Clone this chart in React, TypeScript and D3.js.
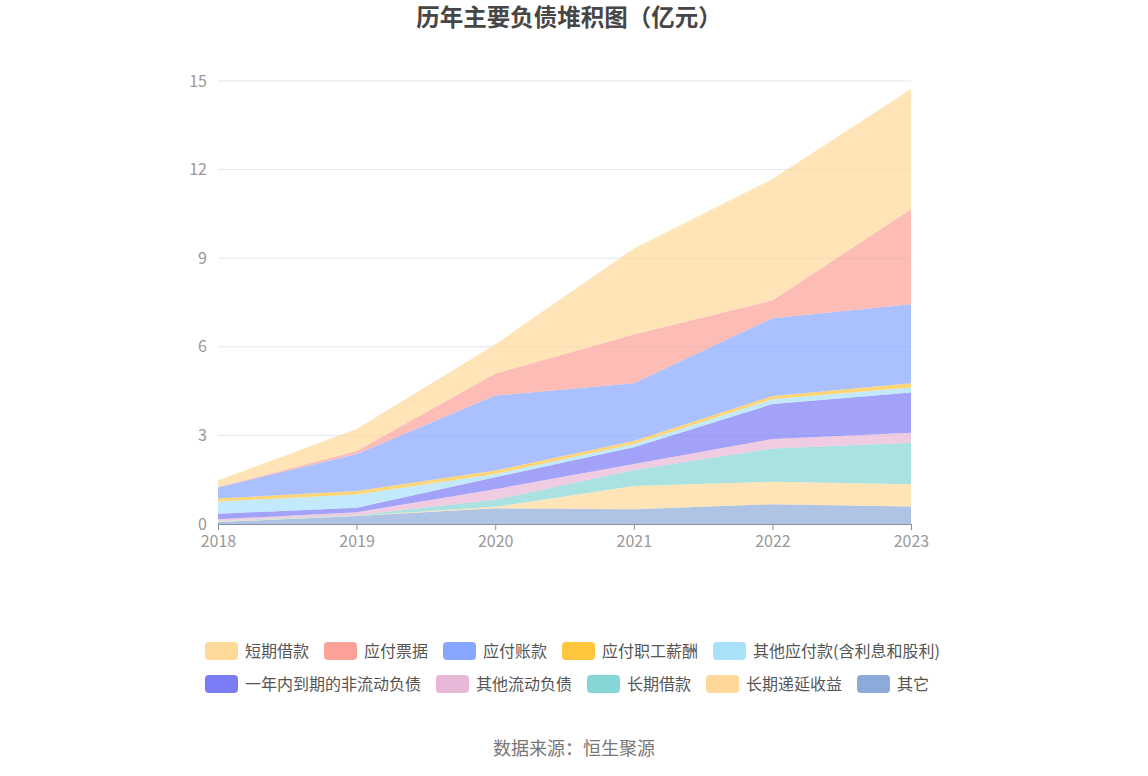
import { useEffect, useRef } from 'react'
import * as d3 from 'd3'

// years on the x axis
const years = ['2018', '2019', '2020', '2021', '2022', '2023']

// series values, 亿元, bottom of the stack first
const qita = [0.07, 0.27, 0.53, 0.5, 0.67, 0.59] // 其它
const changqiDiyan = [0.02, 0.01, 0.05, 0.79, 0.76, 0.76] // 长期递延收益
const changqiJiekuan = [0.02, 0.02, 0.24, 0.54, 1.13, 1.4] // 长期借款
const qitaLiudong = [0.05, 0.1, 0.36, 0.2, 0.32, 0.34] // 其他流动负债
const yinianNei = [0.19, 0.15, 0.4, 0.57, 1.18, 1.36] // 一年内到期的非流动负债
const qitaYingfu = [0.41, 0.45, 0.11, 0.11, 0.16, 0.17] // 其他应付款(含利息和股利)
const zhigong = [0.1, 0.12, 0.12, 0.1, 0.11, 0.15] // 应付职工薪酬
const zhangkuan = [0.38, 1.25, 2.54, 1.96, 2.64, 2.67] // 应付账款
const piaoju = [0.01, 0.1, 0.74, 1.65, 0.6, 3.22] // 应付票据
const duanqi = [0.23, 0.75, 0.99, 2.91, 4.11, 4.07] // 短期借款

const yTicks = [0, 3, 6, 9, 12, 15]

// legend order (as in the reference)
const legendNames = [
  '短期借款', '应付票据', '应付账款', '应付职工薪酬', '其他应付款(含利息和股利)',
  '一年内到期的非流动负债', '其他流动负债', '长期借款', '长期递延收益', '其它',
]

const colors: Record<string, string> = {
  '短期借款': '#FFD99A',
  '应付票据': '#FCA197',
  '应付账款': '#87A6FF',
  '应付职工薪酬': '#FFC53D',
  '其他应付款(含利息和股利)': '#A9E1FB',
  '一年内到期的非流动负债': '#7B7BF5',
  '其他流动负债': '#E8B6D6',
  '长期借款': '#86D6D6',
  '长期递延收益': '#FFD899',
  '其它': '#8DABDA',
}

const W = 1148
const H = 776
const FONT = '"Noto Sans CJK SC", "Noto Sans", sans-serif'

export default function App() {
  const svgRef = useRef<SVGSVGElement>(null)

  useEffect(() => {
    if (!svgRef.current) return
    document.body.style.margin = '0'

    const stackKeys = [
      { name: '其它', values: qita },
      { name: '长期递延收益', values: changqiDiyan },
      { name: '长期借款', values: changqiJiekuan },
      { name: '其他流动负债', values: qitaLiudong },
      { name: '一年内到期的非流动负债', values: yinianNei },
      { name: '其他应付款(含利息和股利)', values: qitaYingfu },
      { name: '应付职工薪酬', values: zhigong },
      { name: '应付账款', values: zhangkuan },
      { name: '应付票据', values: piaoju },
      { name: '短期借款', values: duanqi },
    ]

    const rows = years.map((y, i) => {
      const r: Record<string, number | string> = { year: y }
      stackKeys.forEach(s => { r[s.name] = s.values[i] })
      return r
    })

    const margin = { top: 81, left: 218, right: W - 911, bottom: H - 524 }
    const iw = W - margin.left - margin.right
    const ih = H - margin.top - margin.bottom

    const svg = d3.select(svgRef.current)
    svg.selectAll('*').remove()

    const x = d3.scalePoint<string>().domain(years).range([0, iw])
    const y = d3.scaleLinear().domain([0, 15]).range([ih, 0])

    const g = svg.append('g').attr('transform', `translate(${margin.left},${margin.top})`)

    // grid
    g.append('g')
      .selectAll('line')
      .data(yTicks.filter(t => t > 0))
      .join('line')
      .attr('x1', 0)
      .attr('x2', iw)
      .attr('y1', d => y(d))
      .attr('y2', d => y(d))
      .attr('stroke', '#E0E6F1')

    // stacked areas
    const series = d3.stack<Record<string, number | string>>()
      .keys(stackKeys.map(s => s.name))
      .value((d, k) => d[k] as number)(rows)

    const area = d3.area<d3.SeriesPoint<Record<string, number | string>>>()
      .x(d => x(d.data.year as string)!)
      .y0(d => y(d[0]))
      .y1(d => y(d[1]))

    g.append('g')
      .selectAll('path')
      .data(series)
      .join('path')
      .attr('d', area)
      .attr('fill', d => colors[d.key])
      .attr('fill-opacity', 0.7)

    // y axis labels
    g.append('g')
      .call(d3.axisLeft(y).tickValues(yTicks).tickSize(0).tickPadding(11))
      .call(a => a.select('.domain').remove())
      .call(a => a.selectAll('text')
        .attr('fill', '#999')
        .style('font-size', '16px')
        .style('font-family', FONT))

    // x axis
    g.append('g')
      .attr('transform', `translate(0,${ih})`)
      .call(d3.axisBottom(x).tickSize(6).tickPadding(6))
      .call(a => a.select('.domain').attr('stroke', '#8A90A0'))
      .call(a => a.selectAll('line').attr('stroke', '#8A90A0'))
      .call(a => a.selectAll('text')
        .attr('fill', '#999')
        .style('font-size', '16px')
        .style('font-family', FONT))

    // title
    svg.append('text')
      .attr('x', 569)
      .attr('y', 26)
      .attr('text-anchor', 'middle')
      .attr('fill', '#464646')
      .style('font-size', '23.5px')
      .style('font-weight', 'bold')
      .style('font-family', FONT)
      .text('历年主要负债堆积图（亿元）')

    // legend, two rows, left-aligned flow
    const ctx = document.createElement('canvas').getContext('2d')
    const measure = (t: string) => {
      if (!ctx) return t.length * 16
      ctx.font = `16px ${FONT}`
      return ctx.measureText(t).width
    }
    const legendRows = [legendNames.slice(0, 5), legendNames.slice(5)]
    const lg = svg.append('g')
    legendRows.forEach((row, ri) => {
      let lx = 205
      const cy = 651 + ri * 33
      row.forEach(name => {
        lg.append('rect')
          .attr('x', lx)
          .attr('y', cy - 9)
          .attr('width', 33)
          .attr('height', 18)
          .attr('rx', 4)
          .attr('fill', colors[name])
        lg.append('text')
          .attr('x', lx + 40)
          .attr('y', cy)
          .attr('dy', '0.35em')
          .attr('fill', '#555')
          .style('font-size', '16px')
          .style('font-family', FONT)
          .text(name)
        lx += 40 + measure(name) + 15
      })
    })

    // source
    svg.append('text')
      .attr('x', 574)
      .attr('y', 755)
      .attr('text-anchor', 'middle')
      .attr('fill', '#777')
      .style('font-size', '18px')
      .style('font-family', FONT)
      .text('数据来源：恒生聚源')
  }, [])

  return (
    <svg
      ref={svgRef}
      width={W}
      height={H}
      style={{ display: 'block', background: '#fff' }}
    />
  )
}
